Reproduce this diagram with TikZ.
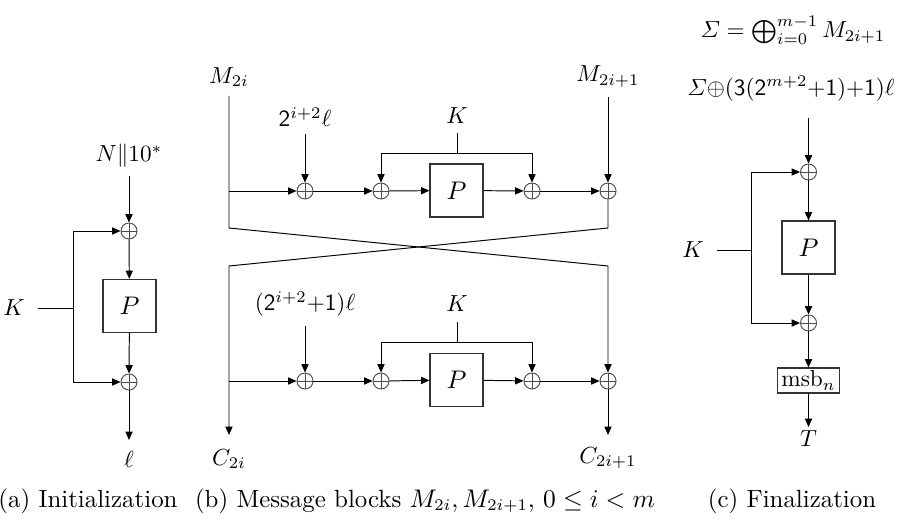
\documentclass[tikz,border=0pt]{standalone}
\usepackage{amsmath}
\usepackage{graphicx}
\usetikzlibrary{arrows.meta}
\begin{document}
\begin{tikzpicture}[x=0.43pt,y=-0.43pt,
  line width=0.42pt,
  >={Triangle[length=3.6pt,width=3.1pt]},
  xor/.style={circle,draw=black!70,line width=0.4pt,inner sep=0pt,minimum size=6.9pt,
    path picture={\draw[black!70,line width=0.4pt]
      (path picture bounding box.north)--(path picture bounding box.south)
      (path picture bounding box.west)--(path picture bounding box.east);}},
  perm/.style={draw=black!80,line width=0.5pt,minimum size=22.8pt,inner sep=0pt,font=\fontsize{11}{13}\selectfont},
  tlab/.style={anchor=south,inner xsep=0pt},
  blab/.style={anchor=north,inner xsep=0pt},
  klab/.style={inner xsep=5.5pt,inner ysep=3.8pt},
  capt/.style={inner sep=0pt,anchor=base,font=\fontsize{10.7}{12.8}\selectfont}]
\useasboundingbox (0,0) rectangle (910,520);

% ---------- (a) Initialization ----------
\node[xor] (xa1) at (129,231) {};
\node[perm] (Pa) at (129.5,306) {$P$};
\node[xor] (xa2) at (129,382) {};
\node[tlab,inner ysep=3.4pt] (Na) at (129,176) {$N\|10^*$};
\node[blab,inner ysep=4.6pt] (ella) at (129,440) {$\ell$};
\node[klab] (Ka) at (14,308) {$K$};
\coordinate (ka) at (73,308);
\draw[->] (Na) -- (xa1);
\draw[->] (xa1) -- (Pa);
\draw[->] (Pa) -- (xa2);
\draw[->] (xa2) -- (ella);
\draw (Ka) -- (ka);
\draw[->] (ka) |- (xa1);
\draw[->] (ka) |- (xa2);

% ---------- (b) Message blocks ----------
\node[xor] (xb1) at (305,191) {};
\node[xor] (xb2) at (381,191) {};
\node[perm] (Pb1) at (456.5,190.5) {$P$};
\node[xor] (xb3) at (532,191) {};
\node[xor] (xb4) at (608,191) {};
\node[xor] (xb5) at (305,381) {};
\node[xor] (xb6) at (381,381) {};
\node[perm] (Pb2) at (456.5,380) {$P$};
\node[xor] (xb7) at (532,381) {};
\node[xor] (xb8) at (608,381) {};

\node[tlab,inner ysep=3.8pt] (M2i) at (229,96) {$M_{2i}$};
\node[tlab,inner ysep=4pt] (M2i1) at (608,97) {$M_{2i+1}$};
\node[tlab,inner ysep=3pt] (L1) at (305,134) {$\mathsf{2}^{i+2}\ell$};
\node[tlab,inner ysep=3.8pt] (L2) at (305,326) {$(\mathsf{2}^{i+2}{+}\mathsf{1})\ell$};
\node[klab,anchor=south] (Kb1) at (457,133) {$K$};
\node[klab,anchor=south,inner ysep=4.2pt] (Kb2) at (457,322) {$K$};
\node[blab,inner ysep=6pt] (C2i) at (229,435) {$C_{2i}$};
\node[blab,inner ysep=5pt] (C2i1) at (608,435) {$C_{2i+1}$};

\coordinate (b1) at (229,191);
\coordinate (b2) at (229,228);
\coordinate (b3) at (608,266);
\coordinate (b4) at (608,228);
\coordinate (b5) at (229,266);
\coordinate (b6) at (229,381);
\coordinate (kb1) at (457,153);
\coordinate (kb2) at (457,342);

\draw[->] (M2i) -- (b2) -- (b3) -- (xb8);
\draw[->] (xb4) -- (b4) -- (b5) -- (C2i);
\draw[->] (b1) -- (xb1);
\draw[->] (L1) -- (xb1);
\draw[->] (xb1) -- (xb2);
\draw[->] (xb2) -- (Pb1);
\draw[->] (Pb1) -- (xb3);
\draw[->] (xb3) -- (xb4);
\draw[->] (M2i1) -- (xb4);
\draw (Kb1) -- (kb1);
\draw[->] (kb1) -| (xb2);
\draw[->] (kb1) -| (xb3);

\draw[->] (b6) -- (xb5);
\draw[->] (L2) -- (xb5);
\draw[->] (xb5) -- (xb6);
\draw[->] (xb6) -- (Pb2);
\draw[->] (Pb2) -- (xb7);
\draw[->] (xb7) -- (xb8);
\draw[->] (xb8) -- (C2i1);
\draw (Kb2) -- (kb2);
\draw[->] (kb2) -| (xb6);
\draw[->] (kb2) -| (xb7);

% ---------- (c) Finalization ----------
\node[anchor=base,inner sep=0pt] (Sig) at (793,38) {$\varSigma = \bigoplus_{i=0}^{m-1} M_{2i+1}$};
\node[tlab,inner ysep=7pt] (Lc) at (791,118) {$\varSigma{\oplus}(\mathsf{3}(\mathsf{2}^{m+2}{+}\mathsf{1}){+}\mathsf{1})\ell$};
\node[xor] (xc1) at (808.5,172) {};
\node[perm] (Pc) at (808.5,247.5) {$P$};
\node[xor] (xc2) at (808.5,323) {};
\node[draw=black!80,line width=0.5pt,minimum width=27pt,minimum height=10.7pt,inner sep=0pt] (msb) at (808.5,380.5) {$\mathrm{msb}_n$};
\node[blab,inner ysep=1.3pt] (T) at (808.5,427) {$T$};
\node[klab] (Kc) at (693,250) {$K$};
\coordinate (kc) at (751,250);
\draw[->] (Lc.south -| xc1) -- (xc1);
\draw[->] (xc1) -- (Pc);
\draw[->] (Pc) -- (xc2);
\draw[->] (xc2) -- (msb);
\draw[->] (msb) -- (T);
\draw (Kc) -- (kc);
\draw[->] (kc) |- (xc1);
\draw[->] (kc) |- (xc2);

% ---------- captions ----------
\node[capt] (capa) at (88,507) {(a) Initialization};
\node[capt] (capb) at (425,507) {(b) Message blocks $M_{2i}, M_{2i+1}$, $0\le i<m$};
\node[capt] (capc) at (792,507) {(c) Finalization};
\end{tikzpicture}
\end{document}
